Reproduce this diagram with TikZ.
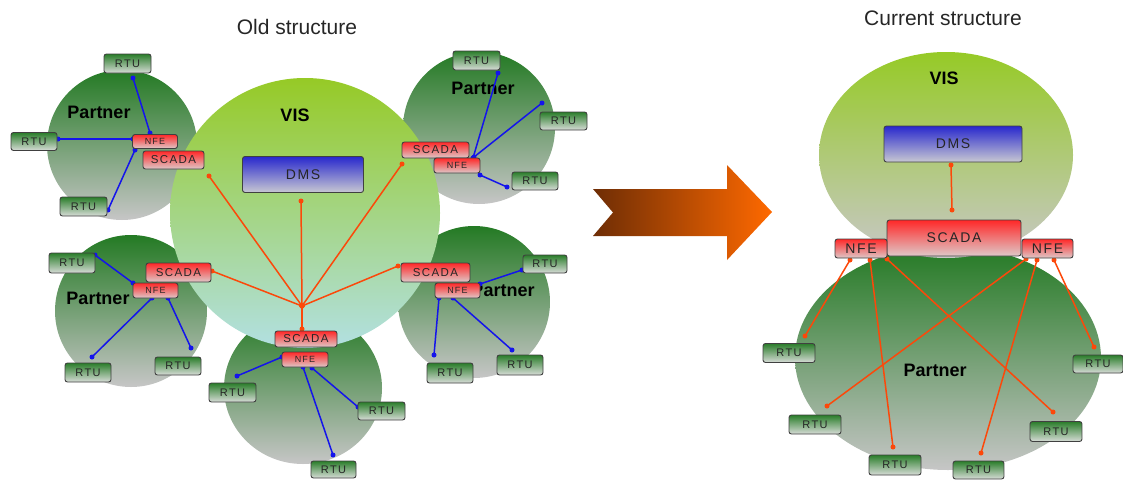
\documentclass[tikz,border=0pt]{standalone}
\usepackage{fontspec}
\setmainfont{Liberation Sans}
\newfontfamily\boxfamily[LetterSpace=12]{Liberation Sans}

\definecolor{ptop}{RGB}{36,122,36}
\definecolor{pbot}{RGB}{198,198,198}
\definecolor{vtop}{RGB}{150,202,38}
\definecolor{vbotL}{RGB}{178,224,226}
\definecolor{vbotR}{RGB}{200,200,200}
\definecolor{orng}{RGB}{252,72,10}
\definecolor{blu}{RGB}{20,20,235}
\definecolor{redtop}{RGB}{255,40,40}
\definecolor{redbot}{RGB}{222,200,200}
\definecolor{rtutop}{RGB}{42,125,42}
\definecolor{rtubot}{RGB}{215,220,215}
\definecolor{dmstop}{RGB}{40,40,205}
\definecolor{dmsbot}{RGB}{200,200,210}
\definecolor{arrL}{RGB}{110,45,5}
\definecolor{arrR}{RGB}{255,105,0}

\newcommand\tinyfnt{\boxfamily\fontsize{9}{9}\selectfont}
\newcommand\smallfnt{\boxfamily\fontsize{11}{11}\selectfont}
\newcommand\midfnt{\boxfamily\fontsize{11.5}{11.5}\selectfont}
\newcommand\bigfnt{\boxfamily\fontsize{14}{14}\selectfont}

% a link with a round dot at each end
\newcommand\dotlink[3]{%
  \draw[#1] (#2) -- (#3);
  \fill[#1] (#2) circle (2.5) (#3) circle (2.5);}

\tikzset{
  unitbox/.style={draw=black!75, line width=0.9pt, rounded corners=2.5pt, inner sep=0pt, text=black!85},
  rtu/.style={unitbox, top color=rtutop, bottom color=rtubot, minimum width=46pt, minimum height=18pt, font=\smallfnt},
  rtuR/.style={rtu, minimum width=52pt, minimum height=19pt},
  nfeS/.style={unitbox, top color=redtop, bottom color=redbot, minimum width=45pt, minimum height=14pt, font=\tinyfnt},
  scadaS/.style={unitbox, top color=redtop, bottom color=redbot, minimum width=64pt, minimum height=17pt, font=\midfnt},
  nfeR/.style={unitbox, top color=redtop, bottom color=redbot, minimum width=52pt, minimum height=19pt, font=\bigfnt},
  scadaR/.style={unitbox, top color=redtop, bottom color=redbot, minimum width=134pt, minimum height=36pt, font=\bigfnt},
  dms/.style={unitbox, top color=dmstop, bottom color=dmsbot, minimum height=36pt, font=\bigfnt},
  partner/.style={top color=ptop, bottom color=pbot},
  lbl/.style={font=\fontsize{18}{18}\selectfont\bfseries},
  bl/.style={blu, line width=1.5pt},
  ol/.style={orng, line width=1.5pt},
  ttl/.style={font=\fontsize{21}{21}\selectfont, text=black!85}
}

\begin{document}
\begin{tikzpicture}[x=1pt,y=-1pt]
\useasboundingbox (0,0) rectangle (1123,479);

% ---------------- old structure ----------------
\node[ttl] (oldttl) at (297,27) {Old structure};

% partner areas
\shade[partner] (122,145) circle (75);
\shade[partner] (479,128) circle (76);
\shade[partner] (131,311) circle (76);
\shade[partner] (474,302) circle (76);
\shade[partner] (303,388) ellipse (79 and 76);

% central VIS area
\shade[top color=vtop, bottom color=vbotL] (305,213) circle (135);
\node[lbl] (vis1) at (295,115) {VIS};
\node[dms, minimum width=121pt] (dms1) at (303,174.5) {DMS};

% partner labels
\node[lbl] (pl1) at (99,112) {Partner};
\node[lbl] (pl2) at (483,88) {Partner};
\node[lbl] (pl3) at (98,298) {Partner};
\node[lbl] (pl4) at (503,290) {Partner};

% hub of the VIS links
\coordinate (hub) at (302,306);
\coordinate (hDMS) at (301,201);
\coordinate (hS1) at (209,176);
\coordinate (hS2) at (402,164);
\coordinate (hS3) at (212,271);
\coordinate (hS4) at (398,266);
\coordinate (hS5) at (302,329);
\foreach \t in {hDMS,hS1,hS2,hS3,hS4,hS5} {\dotlink{ol}{hub}{\t}}

% partner 1 (top left)
\coordinate (a1a) at (133,78);  \coordinate (b1a) at (150,133);
\coordinate (a1b) at (58,139);  \coordinate (b1b) at (133,139);
\coordinate (a1c) at (108,210); \coordinate (b1c) at (135,150);
\dotlink{bl}{a1a}{b1a}
\dotlink{bl}{a1b}{b1b}
\dotlink{bl}{a1c}{b1c}
\node[nfeS] (nfe1) at (155,141.5) {NFE};
\node[scadaS, minimum width=61pt, minimum height=18pt] (sc1) at (173.5,160) {SCADA};
\node[rtu, minimum width=47pt, minimum height=19pt] (r1a) at (127.5,63.5) {RTU};
\node[rtu] (r1b) at (34,141.5) {RTU};
\node[rtu, minimum width=47pt, minimum height=19pt] (r1c) at (83.5,206.5) {RTU};

% partner 2 (top right)
\coordinate (a2a) at (498,73);  \coordinate (b2a) at (473,158);
\coordinate (a2b) at (542,103); \coordinate (b2b) at (474,157);
\coordinate (a2c) at (507,187); \coordinate (b2c) at (480,175);
\dotlink{bl}{a2a}{b2a}
\dotlink{bl}{a2b}{b2b}
\dotlink{bl}{a2c}{b2c}
\node[scadaS, minimum width=67pt, minimum height=16pt] (sc2) at (435.5,150) {SCADA};
\node[nfeS, minimum width=46pt, minimum height=15pt] (nfe2) at (457,165.5) {NFE};
\node[rtu, minimum width=47pt, minimum height=19pt] (r2a) at (476.5,60.5) {RTU};
\node[rtu, minimum width=47pt] (r2b) at (563.5,121) {RTU};
\node[rtu] (r2c) at (535,181) {RTU};

% partner 3 (middle left)
\coordinate (a3a) at (95,255);  \coordinate (b3a) at (133,283);
\coordinate (a3b) at (92,357);  \coordinate (b3b) at (152,298);
\coordinate (a3c) at (191,348); \coordinate (b3c) at (168,298);
\dotlink{bl}{a3a}{b3a}
\dotlink{bl}{a3b}{b3b}
\dotlink{bl}{a3c}{b3c}
\node[scadaS, minimum width=65pt, minimum height=19pt] (sc3) at (178.5,272.5) {SCADA};
\node[nfeS, minimum height=15pt] (nfe3) at (155.5,290.5) {NFE};
\node[rtu, minimum height=20pt] (r3a) at (72,263) {RTU};
\node[rtu, minimum height=19pt] (r3b) at (88,372.5) {RTU};
\node[rtu] (r3c) at (178,366) {RTU};

% partner 4 (middle right)
\coordinate (a4a) at (522,270); \coordinate (b4a) at (480,284);
\coordinate (a4b) at (434,355); \coordinate (b4b) at (439,298);
\coordinate (a4c) at (512,350); \coordinate (b4c) at (453,298);
\dotlink{bl}{a4a}{b4a}
\dotlink{bl}{a4b}{b4b}
\dotlink{bl}{a4c}{b4c}
\node[scadaS, minimum width=69pt, minimum height=19pt] (sc4) at (435.5,272.5) {SCADA};
\node[nfeS, minimum height=15pt] (nfe4) at (457.5,290.5) {NFE};
\node[rtu, minimum width=44pt] (r4a) at (545,264) {RTU};
\node[rtu, minimum height=20pt] (r4b) at (450,373) {RTU};
\node[rtu, minimum height=20pt] (r4c) at (520,365) {RTU};

% partner 5 (bottom)
\coordinate (a5a) at (237,376); \coordinate (b5a) at (282,357);
\coordinate (a5b) at (333,455); \coordinate (b5b) at (303,367);
\coordinate (a5c) at (358,407); \coordinate (b5c) at (312,368);
\dotlink{bl}{a5a}{b5a}
\dotlink{bl}{a5b}{b5b}
\dotlink{bl}{a5c}{b5c}
\node[scadaS, minimum width=62pt, minimum height=16pt] (sc5) at (306,339) {SCADA};
\node[nfeS, minimum width=46pt, minimum height=15pt] (nfe5) at (305,359.5) {NFE};
\node[rtu, minimum width=47pt, minimum height=19pt] (r5a) at (232.5,392.5) {RTU};
\node[rtu, minimum width=47pt] (r5b) at (381.5,411) {RTU};
\node[rtu, minimum width=45pt, minimum height=17pt] (r5c) at (333.5,469.5) {RTU};

% ---------------- transition arrow ----------------
\shade[left color=arrL, right color=arrR]
  (593,189) -- (727,189) -- (727,165) -- (772,212) -- (727,260) -- (727,236)
  -- (593,236) -- (613,212.5) -- cycle;

% ---------------- current structure ----------------
\node[ttl] (curttl) at (943,18) {Current structure};

\shade[partner] (948,358) ellipse (153 and 112);
\shade[top color=vtop, bottom color=vbotR] (946,155) ellipse (127 and 103);
\node[lbl] (vis2) at (944,78) {VIS};
\node[lbl] (pl6) at (935,370) {Partner};

\node[dms, minimum width=138pt] (dms2) at (953,144) {DMS};
\coordinate (dmsend) at (951,165);
\coordinate (scend) at (952,210);
\dotlink{ol}{dmsend}{scend}

\coordinate (nL1) at (850,260); \coordinate (tL1) at (805,336);
\coordinate (nL2) at (870,260); \coordinate (tL2) at (893,447);
\coordinate (nL3) at (887,259); \coordinate (tL3) at (1053,412);
\coordinate (nR1) at (1026,259); \coordinate (tR1) at (827,406);
\coordinate (nR2) at (1037,260); \coordinate (tR2) at (981,453);
\coordinate (nR3) at (1054,260); \coordinate (tR3) at (1094,347);
\foreach \s/\t in {nL1/tL1,nL2/tL2,nL3/tL3,nR1/tR1,nR2/tR2,nR3/tR3}
  {\dotlink{ol}{\s}{\t}}

\node[scadaR] (sc6) at (954,238) {SCADA};
\node[nfeR] (nfeL) at (861,248.5) {NFE};
\node[nfeR, minimum width=51pt] (nfeRt) at (1047.5,248.5) {NFE};

\node[rtuR] (q1) at (789,353) {RTU};
\node[rtuR] (q2) at (815,424.5) {RTU};
\node[rtuR, minimum height=20pt] (q3) at (895,465) {RTU};
\node[rtuR, minimum width=51pt, minimum height=18pt] (q4) at (978.5,470) {RTU};
\node[rtuR, minimum height=20pt] (q5) at (1056,431.5) {RTU};
\node[rtuR, minimum width=50pt, minimum height=18pt] (q6) at (1098,364) {RTU};
\end{tikzpicture}
\end{document}
